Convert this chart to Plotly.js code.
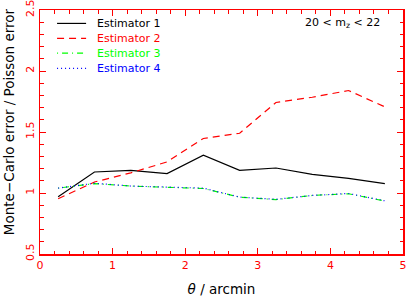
<!DOCTYPE html>
<html><head><meta charset="utf-8">
<script src="https://cdn.plot.ly/plotly-3.0.1.min.js"></script>
<style>html,body{margin:0;padding:0;background:#fff}</style>
</head><body>
<div id="chart" style="width:408px;height:300px"></div>
<script>
const theta = [0.25, 0.75, 1.25, 1.75, 2.25, 2.75, 3.25, 3.75, 4.25, 4.75];
const est1 = [0.97, 1.172, 1.186, 1.159, 1.31, 1.186, 1.205, 1.152, 1.12, 1.077];
const est2 = [0.953, 1.09, 1.165, 1.255, 1.447, 1.49, 1.742, 1.785, 1.84, 1.706];
const est3 = [1.04, 1.077, 1.057, 1.049, 1.037, 0.966, 0.946, 0.98, 0.994, 0.934];
const est4 = [1.04, 1.08, 1.057, 1.047, 1.04, 0.966, 0.948, 0.98, 0.996, 0.936];
const names = ['Estimator 1', 'Estimator 2', 'Estimator 3', 'Estimator 4'];
const colors = ['#000000', '#ff0000', '#00ff00', '#0000ff'];
const dashes = ['solid', '7px,5px', '1px,4px,6px,4px', '1px,3px'];
const series = [est1, est2, est3, est4];
const xTicks = [0, 1, 2, 3, 4, 5];
const yTicks = [0.5, 1, 1.5, 2, 2.5];

const FONT = 'DejaVu Sans, Verdana, sans-serif';

const traces = series.map((s, i) => ({
  x: theta, y: s, type: 'scatter', mode: 'lines', name: names[i],
  showlegend: false,
  line: {color: colors[i], width: 1.2, dash: dashes[i]}
}));

// manual legend (paper coordinates)
const legY = [0.945, 0.884, 0.823, 0.761];
const shapes = names.map((n, i) => ({
  type: 'line', xref: 'paper', yref: 'paper',
  x0: 0.047, x1: 0.127, y0: legY[i], y1: legY[i],
  line: {color: colors[i], width: 1.2, dash: dashes[i]}
}));
const annotations = names.map((n, i) => ({
  xref: 'paper', yref: 'paper', x: 0.152, y: legY[i], xanchor: 'left', yanchor: 'middle',
  text: n, showarrow: false, font: {family: FONT, size: 11, color: colors[i]}
}));
annotations.push({
  xref: 'paper', yref: 'paper', x: 0.943, y: 0.945, xanchor: 'right', yanchor: 'middle',
  text: '20 &lt; m<sub>z</sub> &lt; 22', showarrow: false,
  font: {family: FONT, size: 11, color: '#000'}
});
annotations.push({
  xref: 'paper', yref: 'paper', x: -0.085, y: 0.541, xanchor: 'center', yanchor: 'middle',
  textangle: -90, text: 'Monte\u2212Carlo error / Poisson error', showarrow: false,
  font: {family: FONT, size: 13.5, color: '#000'}
});

const axisCommon = {
  showline: true, linecolor: '#ff0000', linewidth: 1.5, mirror: 'allticks',
  ticks: 'inside', tickcolor: '#ff0000', ticklen: 6, tickwidth: 1,
  showgrid: false, zeroline: false, ticklabeloverflow: 'allow',
  tickfont: {family: FONT, size: 11, color: '#ff0000'}
};

const layout = {
  width: 408, height: 300,
  margin: {l: 40, r: 5, t: 10, b: 46},
  paper_bgcolor: '#fff', plot_bgcolor: '#fff',
  font: {family: FONT, size: 11, color: '#000'},
  xaxis: Object.assign({}, axisCommon, {
    range: [0, 5], tickmode: 'array', tickvals: xTicks, ticktext: xTicks.map(String),
    minor: {dtick: 0.2, tick0: 0, ticks: 'inside', ticklen: 3.5, tickcolor: '#ff0000', tickwidth: 1},
    title: {text: '<i>θ</i> / arcmin', font: {family: FONT, size: 13.5, color: '#000'}, standoff: 14}
  }),
  yaxis: Object.assign({}, axisCommon, {
    range: [0.5, 2.5], tickmode: 'array', tickvals: yTicks, ticktext: yTicks.map(String),
    tickangle: -90,
    minor: {dtick: 0.1, tick0: 0.5, ticks: 'inside', ticklen: 3.5, tickcolor: '#ff0000', tickwidth: 1}
  }),
  showlegend: false,
  shapes: shapes,
  annotations: annotations
};

Plotly.newPlot('chart', traces, layout, {displayModeBar: false, staticPlot: true});
</script>
</body></html>
